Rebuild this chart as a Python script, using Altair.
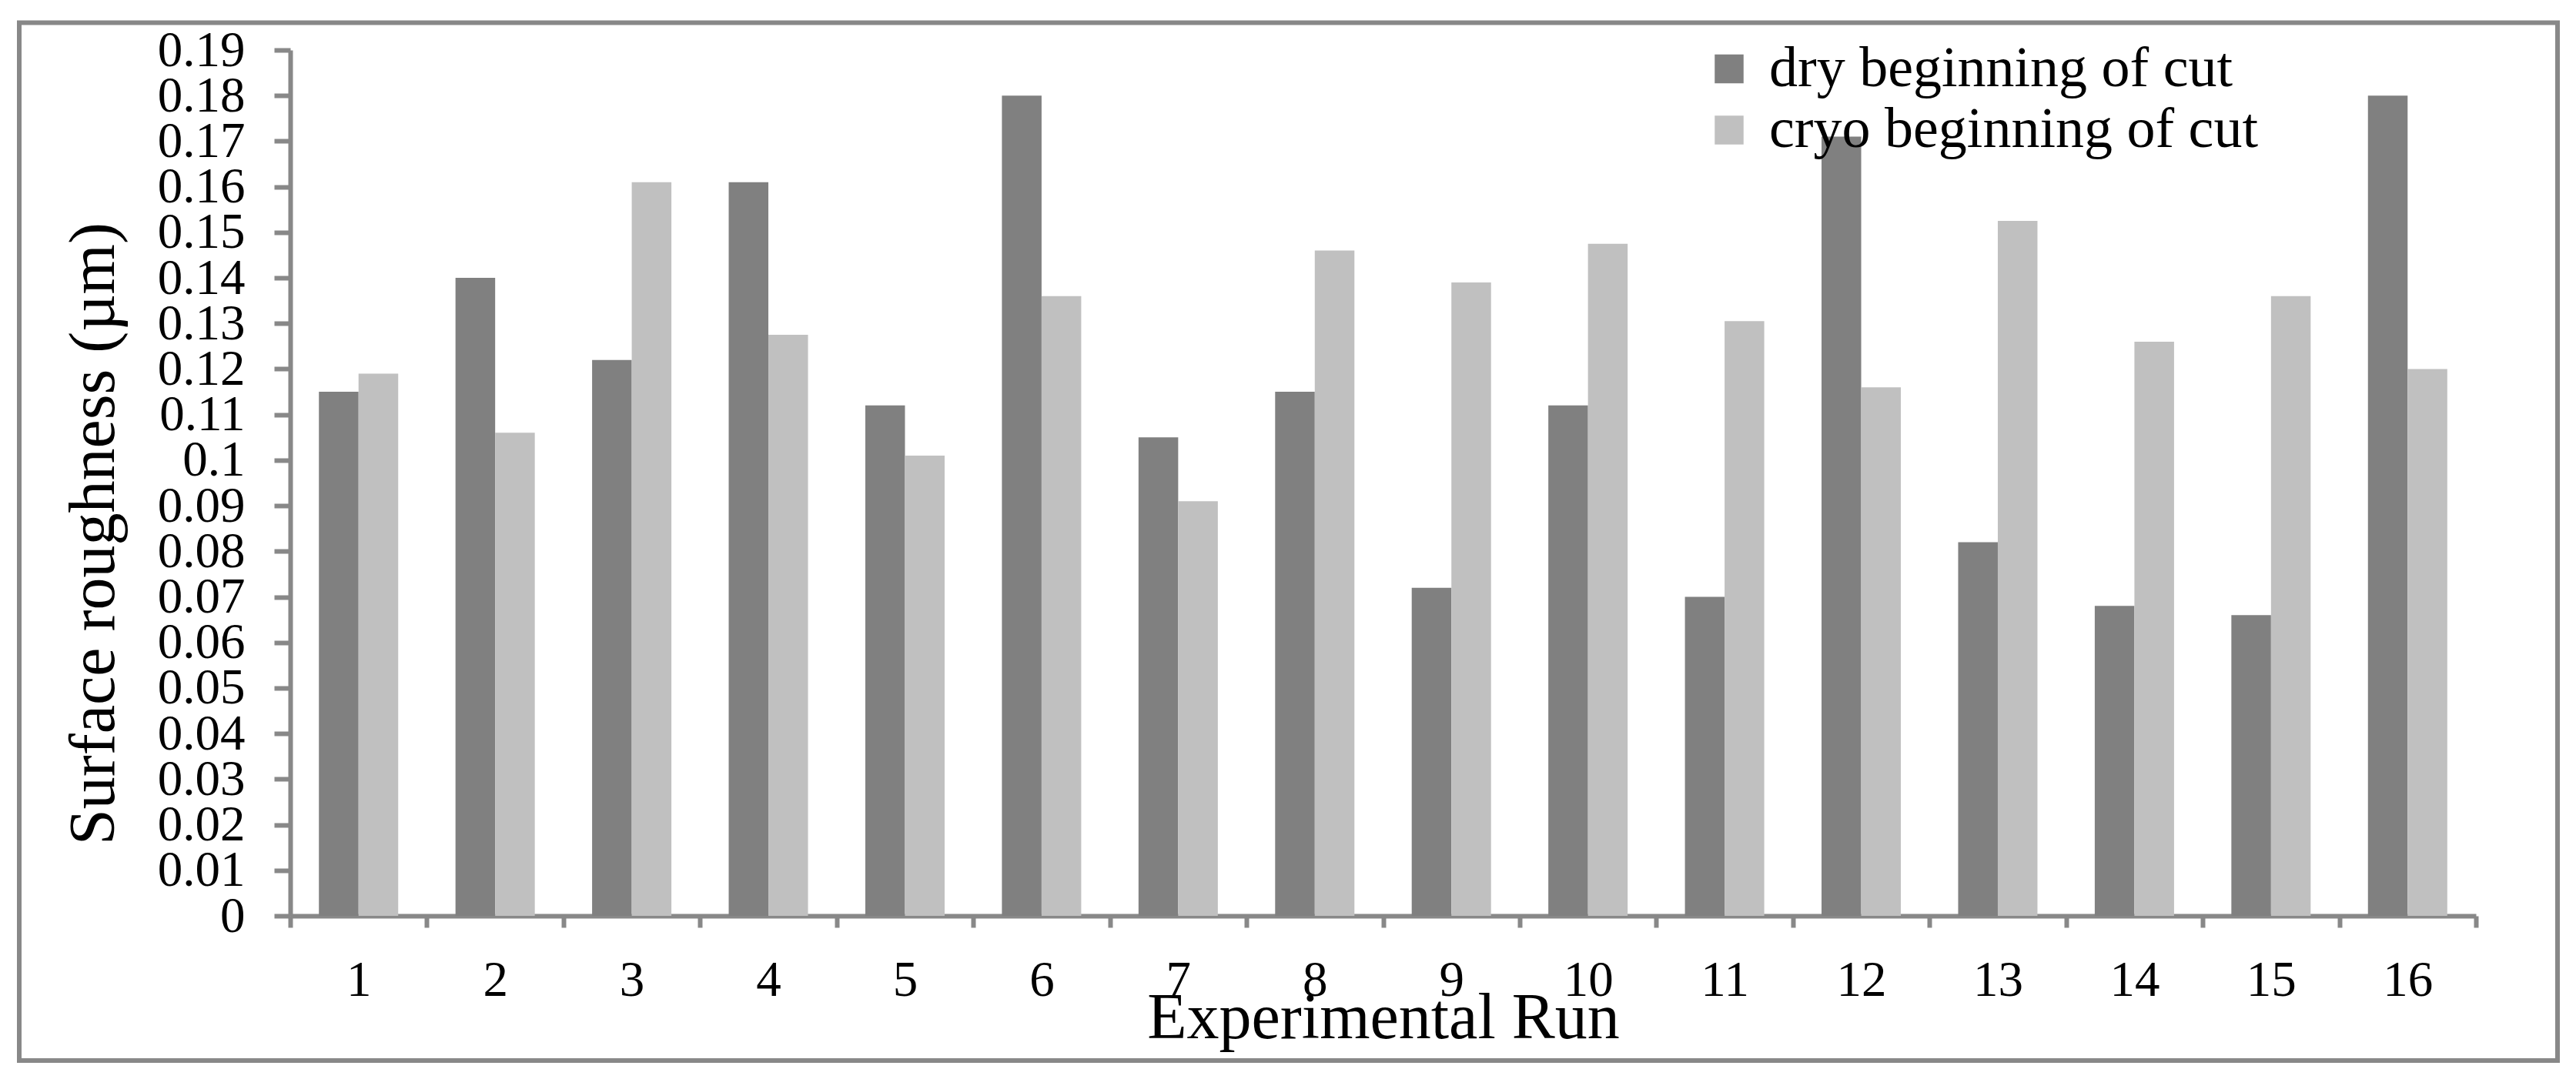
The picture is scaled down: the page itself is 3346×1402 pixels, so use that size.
import altair as alt
import pandas as pd

# ---- data ----
runs = ["1", "2", "3", "4", "5", "6", "7", "8", "9", "10", "11", "12", "13", "14", "15", "16"]
dry = [0.115, 0.140, 0.122, 0.161, 0.112, 0.180, 0.105, 0.115,
       0.072, 0.112, 0.070, 0.171, 0.082, 0.068, 0.066, 0.180]
cryo = [0.119, 0.106, 0.161, 0.1275, 0.101, 0.136, 0.091, 0.146,
        0.139, 0.1475, 0.1305, 0.116, 0.1525, 0.126, 0.136, 0.120]
series_names = ["dry beginning of cut", "cryo beginning of cut"]
series_colors = ["#808080", "#c0c0c0"]
y_ticks = [0, 0.01, 0.02, 0.03, 0.04, 0.05, 0.06, 0.07, 0.08, 0.09, 0.1,
           0.11, 0.12, 0.13, 0.14, 0.15, 0.16, 0.17, 0.18, 0.19]

rows = []
for r, d, c in zip(runs, dry, cryo):
    rows.append({"run": r, "series": series_names[0], "value": d})
    rows.append({"run": r, "series": series_names[1], "value": c})
df = pd.DataFrame(rows)

FONT = "Liberation Serif"
GRAY = "#888888"
W, H = 2839, 1125

bars = alt.Chart(df).mark_bar(strokeWidth=0).encode(
    x=alt.X(
        "run:N", sort=runs,
        scale=alt.Scale(paddingInner=0, paddingOuter=0),
        axis=alt.Axis(
            title="Experimental Run", labelAngle=0, tickBand="extent",
            tickSize=15, labelPadding=88, labelBaseline="alphabetic",
            titleY=158, titleBaseline="alphabetic", labelOverlap=False,
        ),
    ),
    xOffset=alt.XOffset(
        "series:N", sort=series_names,
        scale=alt.Scale(paddingInner=0, paddingOuter=0.7225),
    ),
    y=alt.Y(
        "value:Q",
        scale=alt.Scale(domain=[0, 0.19], nice=False, zero=True),
        axis=alt.Axis(
            title="Surface roughness (µm)", values=y_ticks, format=".2~f",
            tickSize=21, labelPadding=38, labelBaseline="middle", labelOverlap=False,
            titleX=-255, titleY=628, titleAngle=270, titleBaseline="middle",
            titleAlign="center",
        ),
    ),
    color=alt.Color(
        "series:N", sort=series_names,
        scale=alt.Scale(domain=series_names, range=series_colors),
        legend=alt.Legend(
            title=None, orient="none", legendX=1832, legendY=-12.5,
            direction="vertical", symbolType="square", symbolSize=1406,
            symbolStrokeWidth=0, symbolOpacity=1, labelFont=FONT, labelFontSize=74,
            labelColor="black", labelOffset=15, labelLimit=2000, rowPadding=5.5,
            padding=0, labelBaseline="middle",
        ),
    ),
)

border = alt.Chart(pd.DataFrame({"k": [0]})).mark_rect(
    fill="transparent", stroke=GRAY, strokeWidth=6
).encode(
    x=alt.value(-352), x2=alt.value(2945), y=alt.value(-35.5), y2=alt.value(1313)
)

chart = alt.layer(bars, border).properties(
    width=W, height=H,
    autosize=alt.AutoSizeParams(type="none"),
    padding={"left": 369, "top": 57, "right": 120, "bottom": 200},
    background="white",
).configure_view(
    strokeWidth=0
).configure_axis(
    domainColor=GRAY, domainWidth=6, tickColor=GRAY, tickWidth=6,
    labelFont=FONT, titleFont=FONT, labelColor="black", titleColor="black",
    labelFontSize=65, titleFontSize=84, titleFontWeight="normal", grid=False,
).configure_legend(
    labelFont=FONT, labelFontSize=74, labelColor="black",
)

chart.save("out.html", embed_options={"renderer": "svg", "actions": False})
